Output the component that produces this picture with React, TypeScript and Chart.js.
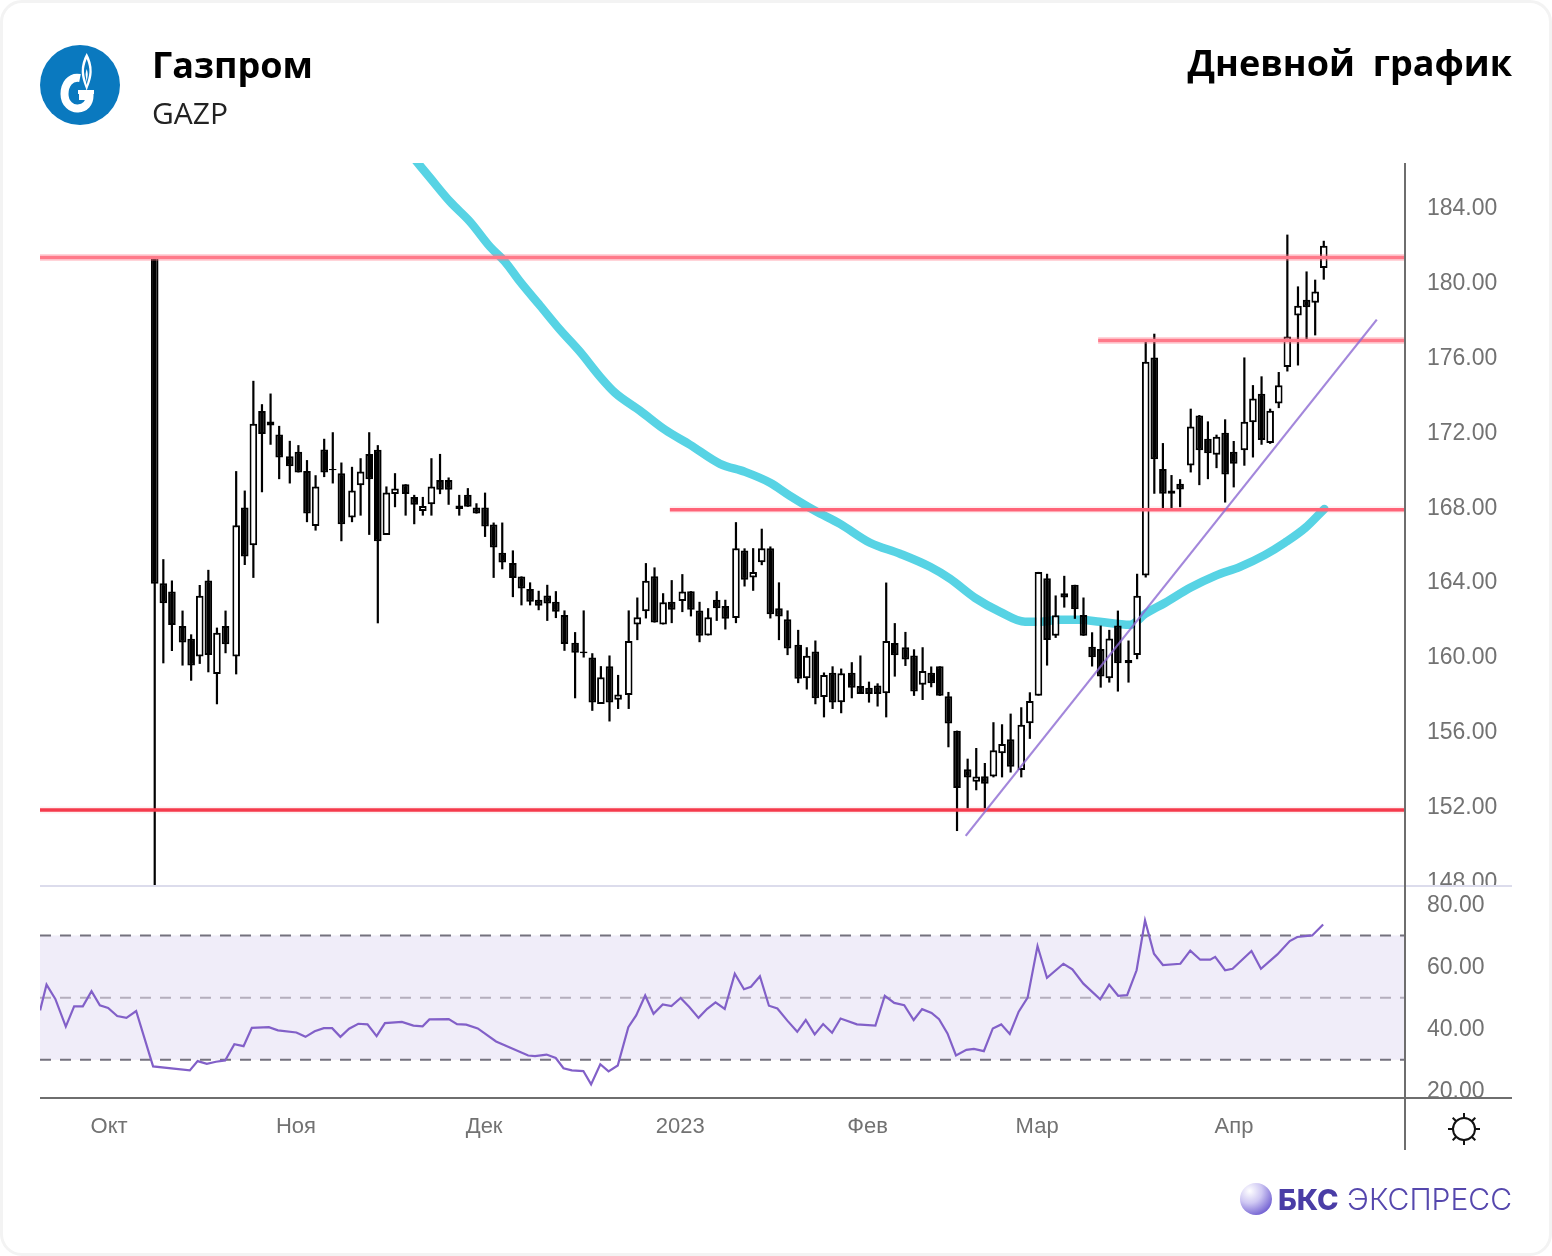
import React, { useEffect, useRef } from "react";
import { Chart, registerables } from "chart.js";

Chart.register(...registerables);

const highs = [181.6,165.41,164.27,162.66,161.39,164.03,164.84,161.75,162.66,170.12,169.08,174.95,173.7,174.27,172.54,171.74,171.51,170.71,169.9,171.85,172.2,170.58,170.35,170.81,172.2,171.51,169.3,170.01,169.42,168.85,168.74,170.81,171.04,169.78,168.85,169.21,168.4,168.97,167.37,167.37,165.88,164.49,164.17,163.72,164.04,163.7,162.67,161.51,162.67,160.38,159.69,160.26,159.22,162.67,163.36,165.2,164.97,163.59,164.29,164.61,163.7,163.13,162.79,163.7,163.24,167.39,165.99,166,167.04,166.09,164.17,162.67,161.63,160.7,161.06,159.35,159.68,159.56,159.9,160.26,158.86,158.77,164.16,161.99,161.52,160.59,160.7,159.67,159.68,158.31,156.24,154.74,155.31,154.51,156.69,156.58,157.15,157.49,158.29,164.73,164.63,163.47,164.52,164.04,163.36,161.5,161.86,161.63,162.66,161.06,164.63,177.11,177.47,171.62,169.91,169.69,173.46,173.12,172.78,172.07,172.89,171.73,176.2,174.72,175.19,173.46,175.42,182.77,180,180.8,180.36,182.44];
const lows = [147.93,159.84,160.5,159.72,158.91,159.81,159.36,157.65,160.38,159.25,165.1,164.41,168.99,171.53,169.69,169.46,170.05,167.39,166.94,169.8,169.46,166.37,167.39,167.74,166.71,161.98,166.71,168.19,167.74,167.28,167.74,167.74,168.89,168.32,167.74,168.21,167.85,166.6,164.41,164.87,163.38,162.94,162.94,162.68,162.11,162.26,160.51,157.97,160.15,157.3,157.67,156.73,157.4,157.4,161.08,162.24,162.02,161.92,161.99,162.58,162.35,160.97,161.33,162.11,161.65,161.99,163.95,163.72,165.09,162.24,161.08,160.28,158.78,158.44,157.65,156.95,157.4,157.17,157.97,158.2,157.74,157.53,156.95,159.13,159.7,158.1,157.88,158.56,158.1,155.35,150.87,152.08,153.05,152.08,153.74,153.74,154,153.74,155.8,158.11,159.72,161.2,162.82,162.22,161.31,159.67,158.54,158.81,158.33,158.81,160.06,164.43,168.91,168,168.1,168.19,170.05,169.37,169.69,170.28,168.44,169.25,170.41,170.85,171.53,171.58,173.49,175.45,175.77,177.06,177.38,180.36];
const opens = [181.6,164.12,163.68,161.84,161.16,160.2,164.27,159.27,161.84,160.2,168.17,166.16,173.33,172.78,172.08,170.92,171.15,170.12,167.19,171.28,170.24,170.01,167.64,169.37,171.04,171.26,166.71,168.9,169.42,168.74,167.99,168.35,169.65,169.65,168.28,168.85,168.17,168.17,167.26,165.75,165.2,164.49,163.81,163.24,163.47,163.13,162.43,160.94,160.47,160.15,157.67,159.69,157.89,158.14,161.92,162.63,164.5,161.92,163.13,163.17,163.7,162.67,161.33,163.24,162.9,162.26,165.88,164.43,165.24,165.99,162.79,162.2,160.83,159.04,160.47,158.04,159.33,157.76,159.33,158.63,158.54,158.65,158.24,160.93,160.7,160.26,158.69,159.33,159.68,158.08,156.24,154.17,153.51,153.8,153.78,155.03,155.78,154.14,156.63,158.11,164.39,161.31,163.59,164.04,162.43,160.72,160.61,159.04,161.86,160.02,160.29,164.54,176.2,170.23,169.09,169.44,170.42,173.1,171.85,171,172.17,171.16,171.23,172.73,174.26,171.62,173.74,175.69,178.45,179.29,179.13,180.98];
const closes = [164.09,163.05,161.89,160.96,159.72,163.45,160.29,161.48,160.86,167.23,165.55,172.65,172.11,172.56,170.85,170.38,170.05,167.85,169.3,170.05,170.17,167.28,169.08,170.1,169.69,166.37,168.97,169.19,168.9,168.32,168.26,169.3,169.12,169.12,168.1,168.21,167.85,167.16,166.03,165.23,164.41,163.84,163.13,162.92,163.04,162.6,160.87,160.4,160.38,157.74,159.1,157.74,158.17,161.04,162.31,164.25,162.02,163.11,162.7,163.68,162.7,161.31,162.31,162.79,162.22,165.99,164.31,164.72,165.99,162.47,162.35,160.63,159.01,160.24,157.97,159.22,157.74,159.31,158.54,158.2,158.2,158.2,161.04,160.27,160.04,158.33,159.43,158.77,158.1,156.62,153.17,153.73,153.78,153.4,155.19,155.53,154.31,156.56,157.83,164.72,161.09,162.41,163.36,162.73,161.31,160.17,159.13,161.17,159.85,159.85,163.45,175.97,170.75,168.91,168.91,169.14,172.51,171.23,171.07,171.96,169.94,170.51,172.76,174.01,171.78,173.35,174.71,177.32,178.97,178.88,179.73,182.18];

// Bars after which the market paused, on the session axis
const sessionBreaks = [3,9,15,22,28,34,40,47,53,59,65,72,78,84,91,97,103,109,116,122,128];
const breakLength = 0.235;

const maSessions = [30.27,32.01,34.34,36.66,38.99,40.73,42.48,44.8,47.13,49.45,51.78,53.52,56.43,59.34,62.24,65.73,68.64,71.55,73.87,76.78,79.69,83.17,86.66,90.15,92.48,95.38,98.29,101.2,102.9,105.27,107.6,109.9,113.4,115.2,117.5,120.4,123.3,126.2,129.1,131.4,133.8,136];
const maValues = [186.78,185.81,184.53,183.46,182.12,181.32,180.25,178.97,177.68,176.5,175.17,174.31,173.35,172.33,171.53,170.51,170.08,169.5,168.8,168,167.3,166.29,165.7,165,164.36,163.34,162.59,162.06,162.06,162.17,162.17,162.06,161.9,162.49,163.08,163.88,164.52,165,165.64,166.29,167.09,168.1];

const rsiSessions = [-13.33,-12.58,-11.56,-10.34,-9.37,-8.36,-7.35,-6.38,-5.42,-4.36,-3.29,-2.16,-0.19,4.08,4.99,6.06,7.12,8.19,9.26,10.33,11.29,13.27,14.33,16.47,17.53,18.6,19.66,20.63,21.59,22.6,23.67,24.74,25.8,26.77,28.74,30.08,31.15,31.94,34.19,35.15,36.22,37.56,39.69,43.43,44.22,45.56,46.63,47.53,48.5,49.84,50.74,51.81,52.77,53.84,55.07,55.98,57.03,58,59.07,60.08,61.15,62.16,63.23,64.24,65.21,66.28,67.45,68.52,69.33,70.37,71.42,72.4,73.56,74.71,75.7,76.74,77.72,78.76,79.75,81.65,83.8,84.89,85.99,87.15,88.25,89.23,90.33,91.2,92.18,93.17,94.38,95.25,96.41,97.45,98.43,99.42,100.46,101.5,102.65,103.75,105.66,106.7,107.98,109.94,110.98,112.03,113.07,114.17,115.15,116.19,117.23,119.26,120.41,121.57,122.73,123.31,124.46,125.33,127.53,128.63,130.54,131.98,132.85,134.59,135.86];
const rsiValues = [45.9,54.2,49.6,40.7,47.2,47.2,52.1,47.5,46.7,44.1,43.5,45.7,27.9,26.6,29.6,28.7,29.4,29.8,35,34.4,40.3,40.5,39.5,38.8,37.4,39.2,40.2,40.2,37.4,40,41.6,41.4,37.6,41.8,42.2,41,40.8,43,43.1,41.5,41.3,40.1,35.9,31.4,31.2,31.7,30.6,27.3,26.6,26.4,22.1,28.6,26.3,28.2,40.5,44.3,50.7,44.8,47.8,47.3,49.9,47,43.5,46.4,48.5,46.4,57.7,52.7,53.5,56.9,47.4,46.5,42.6,39,42.8,38.2,41.5,38.7,43.3,41.4,41,50.6,48.3,47.6,42.8,46.3,45.1,43.1,38.5,31.4,33.2,33.5,32.8,40.1,41.4,38.3,45.5,50,66.6,56.4,60.9,59.1,54.5,49.5,54.2,50.6,50.8,58.8,74.8,64.1,60.5,60.9,65.1,62.2,62.2,63.1,58.8,59.3,65,59.3,63.9,68.2,69.5,70,73.5];

const levels = [
  { value: 181.55, from: -13.34, to: 145.38, color: "#ff7a8a", glow: "rgba(255,112,129,0.3)" },
  { value: 177.1, from: 109.7, to: 145.38, color: "#ff7a8a", glow: "rgba(255,112,129,0.3)" },
  { value: 168.05, from: 59.9, to: 145.38, color: "#ff6478", glow: "rgba(255,100,120,0.1)" },
  { value: 152, from: -13.34, to: 145.38, color: "#f53a4c", glow: "rgba(245,58,76,0.08)" },
];
const trendSessions = [94.3, 142.1];
const trendValues = [150.61, 178.22];

const rsiBands = [70, 50, 30];
const monthTicks = [-5.3, 16.42, 38.3, 61.1, 82.9, 102.6, 125.5];
const monthLabels = ["Окт", "Ноя", "Дек", "2023", "Фев", "Мар", "Апр"];
const priceTicks = [148, 152, 156, 160, 164, 168, 172, 176, 180, 184];
const rsiTicks = [20, 40, 60, 80];

const sessions = opens.map((_, i) => i + breakLength * sessionBreaks.filter((b) => b <= i).length);
const xMin = -13.34;
const xMax = 145.38;

const tickFont = { family: "'Liberation Sans', Arial, sans-serif", size: 23 };
const tickColor = "#727272";

const framePlugin = {
  id: "frame",
  afterDraw(chart: any) {
    const { ctx, chartArea } = chart;
    const split = chart.scales.price.bottom;
    const bottom = chartArea.bottom;
    const right = chartArea.right;
    ctx.save();
    ctx.fillStyle = "#ffffff";
    ctx.fillRect(right + 2, split, 130, 7);
    ctx.fillRect(right + 2, bottom, 130, 12);
    ctx.fillStyle = "#dcdcec";
    ctx.fillRect(40, split - 1, 1472, 2);
    ctx.fillStyle = "#6e6e6e";
    ctx.fillRect(40, bottom - 1, 1472, 2);
    ctx.fillRect(right - 1, chartArea.top, 2, 987);
    ctx.restore();
  },
};

function App() {
  const ref = useRef<HTMLCanvasElement>(null);
  useEffect(() => {
    const levelSets: any[] = [];
    levels.forEach((l) => {
      const data = [{ x: l.from, y: l.value }, { x: l.to, y: l.value }];
      levelSets.push({ type: "line", data, yAxisID: "price", borderColor: l.glow, borderWidth: 7, pointRadius: 0, order: 3 });
      levelSets.push({ type: "line", data, yAxisID: "price", borderColor: l.color, borderWidth: 3.5, pointRadius: 0, order: 2 });
    });
    const chart = new Chart(ref.current!, {
      type: "bar",
      data: {
        datasets: [
          {
            type: "line",
            data: [{ x: xMin, y: rsiBands[0] }, { x: xMax, y: rsiBands[0] }],
            yAxisID: "rsi",
            borderWidth: 0,
            pointRadius: 0,
            backgroundColor: "#f0edf9",
            fill: { target: { value: rsiBands[2] } },
            order: 10,
          },
          ...rsiBands.map((b) => ({
            type: "line",
            data: [{ x: xMin, y: b }, { x: xMax, y: b }],
            yAxisID: "rsi",
            borderColor: b === 50 ? "#b4aebd" : "#74727e",
            borderWidth: 2,
            borderDash: [11, 9],
            pointRadius: 0,
            order: 9,
          })),
          {
            type: "line",
            data: rsiSessions.map((x, i) => ({ x, y: rsiValues[i] })),
            yAxisID: "rsi",
            borderColor: "#8260c8",
            borderWidth: 2.2,
            pointRadius: 0,
            order: 1,
          },
          {
            type: "line",
            data: maSessions.map((x, i) => ({ x, y: maValues[i] })),
            yAxisID: "price",
            borderColor: "#57d3e4",
            borderWidth: 8.5,
            borderCapStyle: "round",
            cubicInterpolationMode: "monotone",
            pointRadius: 0,
            order: 8,
          },
          {
            data: sessions.map((x, i) => ({ x, y: [lows[i], highs[i]] })),
            yAxisID: "price",
            backgroundColor: "#000000",
            barThickness: 2.2,
            grouped: false,
            inflateAmount: 0,
            order: 7,
          },
          {
            data: sessions.map((x, i) => ({ x, y: [opens[i], closes[i]] })),
            yAxisID: "price",
            backgroundColor: opens.map((o, i) => (closes[i] >= o ? "#ffffff" : "#000000")),
            borderColor: "#000000",
            borderWidth: 2,
            borderSkipped: false,
            barThickness: 7.6,
            grouped: false,
            inflateAmount: 0,
            order: 6,
          },
          ...levelSets,
          {
            type: "line",
            data: trendSessions.map((x, i) => ({ x, y: trendValues[i] })),
            yAxisID: "price",
            borderColor: "rgba(140,105,210,0.8)",
            borderWidth: 2.2,
            pointRadius: 0,
            order: 1,
          },
        ] as any,
      },
      options: {
        responsive: false,
        animation: false,
        layout: { padding: { left: 40, top: 163, right: 0, bottom: 0 } },
        plugins: { legend: { display: false }, tooltip: { enabled: false } },
        scales: {
          x: {
            type: "linear",
            offset: false,
            min: xMin,
            max: xMax,
            grid: { display: false },
            border: { display: false },
            afterBuildTicks: (s: any) => {
              s.ticks = monthTicks.map((value) => ({ value }));
            },
            afterFit: (s: any) => {
              s.height = 158;
            },
            ticks: {
              autoSkip: false,
              maxRotation: 0,
              padding: 8,
              font: { ...tickFont, size: 22 },
              color: tickColor,
              callback: (v: any) => monthLabels[monthTicks.indexOf(v)],
            },
          },
          price: {
            type: "linear",
            position: "right",
            stack: "panes",
            stackWeight: 723,
            min: 147.93,
            max: 186.6,
            grid: { display: false },
            border: { display: false },
            afterBuildTicks: (s: any) => {
              s.ticks = priceTicks.map((value) => ({ value }));
            },
            afterFit: (s: any) => {
              s.width = 147;
            },
            ticks: {
              autoSkip: false,
              padding: 14,
              labelOffset: -2.5,
              font: tickFont,
              color: tickColor,
              callback: (v: any) => Number(v).toFixed(2),
            },
          },
          rsi: {
            type: "linear",
            position: "right",
            stack: "panes",
            stackWeight: 212,
            min: 17.73,
            max: 85.9,
            grid: { display: false },
            border: { display: false },
            afterBuildTicks: (s: any) => {
              s.ticks = rsiTicks.map((value) => ({ value }));
            },
            afterFit: (s: any) => {
              s.width = 147;
            },
            ticks: {
              autoSkip: false,
              padding: 14,
              labelOffset: 1,
              font: tickFont,
              color: tickColor,
              callback: (v: any) => Number(v).toFixed(2),
            },
          },
        },
      } as any,
      plugins: [framePlugin as any],
    });
    return () => chart.destroy();
  }, []);

  const text = (style: React.CSSProperties): React.CSSProperties => ({
    position: "absolute",
    fontFamily: "'Open Sans', sans-serif",
    whiteSpace: "nowrap",
    lineHeight: 1,
    color: "#000",
    ...style,
  });

  return (
    <div style={{ position: "absolute", left: 0, top: 0, width: 1552, height: 1256, overflow: "hidden", background: "#fff" }}>
      <canvas ref={ref} width={1552} height={1256} style={{ position: "absolute", left: 0, top: 0, width: 1552, height: 1256 }} />
      <div style={{ position: "absolute", inset: 0, boxSizing: "border-box", border: "3px solid #f3f3f3", borderRadius: 22, pointerEvents: "none" }} />
      <svg width={80} height={80} viewBox="0 0 80 80" style={{ position: "absolute", left: 40, top: 45 }}>
        <circle cx={40} cy={40} r={40} fill="#0a79bf" />
        <path d="M46.7 8 C50 14 52 20 51.7 27 C51.4 35 48 41 46.7 46 C45.4 41 42 35 41.7 27 C41.4 20 43.4 14 46.7 8 Z" fill="#fff" />
        <path d="M46.7 14 C48.6 19 49.6 23 49.4 27 C49.2 32 47.4 36 46.7 40 C46 36 44.2 32 44 27 C43.8 23 44.8 19 46.7 14 Z" fill="#0a79bf" />
        <path d="M46.7 24 C47.6 27 48 29 47.6 31 C47.3 33 47 35 46.7 37 C46.4 35 46 33 45.8 31 C45.4 29 45.8 27 46.7 24 Z" fill="#fff" />
        <path d="M40 33 C30 31 24.5 40 24.5 49 C24.5 59 32 64 38 63.5 C45 63 49.5 58 49.5 51 L39 51" fill="none" stroke="#fff" strokeWidth={8} />
        <path d="M38 47 H54" stroke="#fff" strokeWidth={4} />
      </svg>
      <div style={text({ left: 152, top: 47, fontSize: 36, fontWeight: 700 })}>Газпром</div>
      <div style={text({ left: 152, top: 98, fontSize: 30, color: "#222" })}>GAZP</div>
      <div style={text({ right: 40, top: 45, fontSize: 36, fontWeight: 700, wordSpacing: 8.5 })}>Дневной график</div>
      <svg width={36} height={36} viewBox="-18 -18 36 36" style={{ position: "absolute", left: 1446, top: 1111 }}>
        <circle r={11} fill="none" stroke="#111" strokeWidth={2} />
        {[0, 45, 90, 135, 180, 225, 270, 315].map((a) => (
          <line key={a} x1={0} y1={-11} x2={0} y2={-16} stroke="#111" strokeWidth={2} transform={`rotate(${a})`} />
        ))}
      </svg>
      <svg width={34} height={34} viewBox="0 0 34 34" style={{ position: "absolute", left: 1239, top: 1182 }}>
        <defs>
          <radialGradient id="bksBall" cx="0.3" cy="0.25" r="0.85">
            <stop offset="0" stopColor="#ffffff" />
            <stop offset="0.45" stopColor="#cfc8f3" />
            <stop offset="1" stopColor="#6a58cf" />
          </radialGradient>
        </defs>
        <circle cx={17} cy={17} r={16} fill="url(#bksBall)" />
      </svg>
      <div style={text({ left: 1278, top: 1185, fontSize: 29, fontWeight: 800, fontFamily: "Inter, sans-serif", color: "#4a3da6" })}>БКС</div>
      <div style={text({ right: 40, top: 1184, fontSize: 30, fontWeight: 300, fontFamily: "Inter, sans-serif", color: "#5547ad" })}>ЭКСПРЕСС</div>
    </div>
  );
}

export default App;
